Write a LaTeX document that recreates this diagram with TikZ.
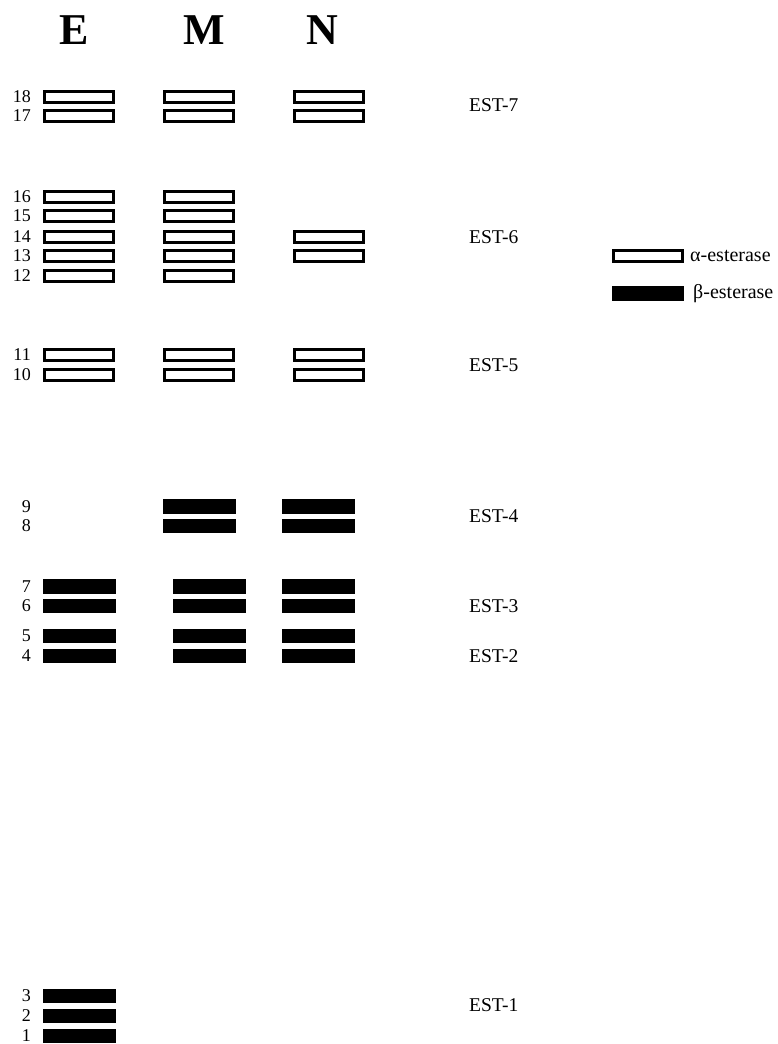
\documentclass[tikz,border=0pt]{standalone}
\usepackage{fontspec}
\setmainfont{Liberation Serif}
\begin{document}
\begin{tikzpicture}[x=1pt,y=-1pt,
  alphaband/.style={draw=black,line width=3pt,fill=white,rectangle,inner sep=0pt,
    minimum width=69pt,minimum height=11pt},
  betaband/.style={fill=black,rectangle,inner sep=0pt,
    minimum width=73pt,minimum height=14.5pt},
  lane/.style={font=\fontsize{44}{44}\selectfont\bfseries,inner sep=0pt,anchor=base},
  bandno/.style={font=\fontsize{18}{18}\selectfont,inner sep=0pt,anchor=east},
  locus/.style={font=\fontsize{19.5}{19.5}\selectfont,inner sep=0pt,anchor=west},
  legtext/.style={font=\fontsize{20}{20}\selectfont,inner sep=0pt,anchor=west}]
\useasboundingbox (0,0) rectangle (778,1044);

% lane headings
\node[lane] (hE) at (74,44) {E};
\node[lane] (hM) at (204,44) {M};
\node[lane] (hN) at (322,44) {N};

% band numbers
\foreach \n/\y in {18/97,17/116,16/196.5,15/216,14/236.5,13/256,12/276,11/355,10/375,
                   9/506.5,8/526,7/586.5,6/606,5/636,4/656,3/996,2/1016,1/1036}
  \node[bandno] (no\n) at (31,\y) {\n};

% alpha-esterase bands, lane E
\foreach \n/\y in {18/97,17/116,16/196.5,15/216,14/236.5,13/256,12/276,11/355,10/375}
  \node[alphaband] (e\n) at (79,\y) {};
% alpha-esterase bands, lane M
\foreach \n/\y in {18/97,17/116,16/196.5,15/216,14/236.5,13/256,12/276,11/355,10/375}
  \node[alphaband] (m\n) at (199,\y) {};
% alpha-esterase bands, lane N
\foreach \n/\y in {18/97,17/116,14/236.5,13/256,11/355,10/375}
  \node[alphaband] (n\n) at (329,\y) {};

% beta-esterase bands
\foreach \n/\y in {7/586.5,6/606,5/636,4/656,3/996,2/1016,1/1036}
  \node[betaband] (e\n) at (79,\y) {};
\foreach \n/\y in {9/506.5,8/526}
  \node[betaband] (m\n) at (199.5,\y) {};
\foreach \n/\y in {7/586.5,6/606,5/636,4/656}
  \node[betaband] (m\n) at (209.5,\y) {};
\foreach \n/\y in {9/506.5,8/526,7/586.5,6/606,5/636,4/656}
  \node[betaband] (n\n) at (318.5,\y) {};

% loci
\node[locus] (est7) at (469,105) {EST-7};
\node[locus] (est6) at (469,237) {EST-6};
\node[locus] (est5) at (469,365) {EST-5};
\node[locus] (est4) at (469,516) {EST-4};
\node[locus] (est3) at (469,606) {EST-3};
\node[locus] (est2) at (469,656) {EST-2};
\node[locus] (est1) at (469,1005) {EST-1};

% legend
\node[alphaband,minimum width=69pt] (legA) at (647.5,255.5) {};
\node[legtext] (legAt) at (690,256) {α-esterase};
\node[betaband,minimum width=72pt] (legB) at (648,293.5) {};
\node[legtext] (legBt) at (693,294) {β-esterase};
\end{tikzpicture}
\end{document}
